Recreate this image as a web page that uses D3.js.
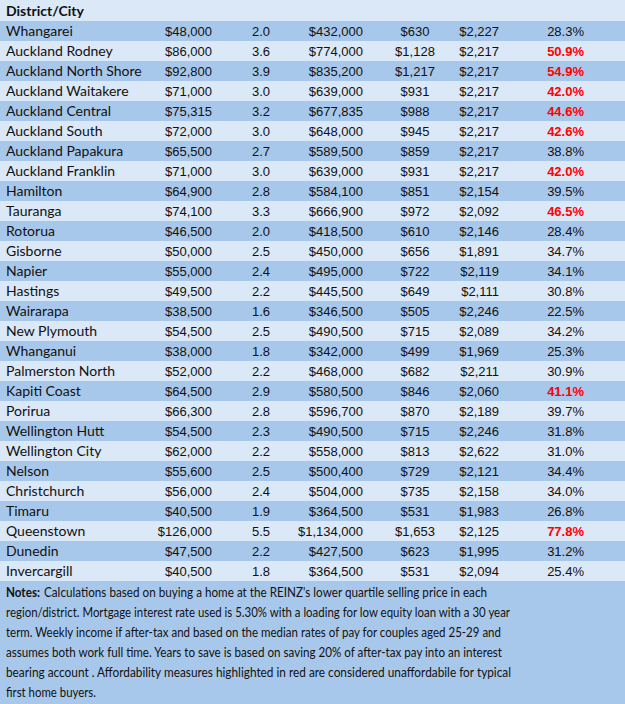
<!DOCTYPE html>
<html lang="en">
<head>
<meta charset="UTF-8">
<title>First home affordability by district</title>
<script src="https://d3js.org/d3.v7.min.js"></script>
<style>
  body { margin: 0; padding: 0; background: #fff; }
  svg { display: block; }
  .name { font-family: Lato, 'Noto Sans', sans-serif; font-size: 14px; fill: #111; }
  .num { font-family: 'Liberation Sans', Arial, sans-serif; font-size: 13px; fill: #111; }
  .hot { fill: #ff0000; font-weight: bold; }
  .notes { font-family: Lato, 'Noto Sans', sans-serif; font-size: 14px; fill: #111; }
</style>
</head>
<body>
<svg width="625" height="704"></svg>
<script>
const districts = ["Whangarei", "Auckland Rodney", "Auckland North Shore", "Auckland Waitakere",
  "Auckland Central", "Auckland South", "Auckland Papakura", "Auckland Franklin", "Hamilton",
  "Tauranga", "Rotorua", "Gisborne", "Napier", "Hastings", "Wairarapa", "New Plymouth",
  "Whanganui", "Palmerston North", "Kapiti Coast", "Porirua", "Wellington Hutt",
  "Wellington City", "Nelson", "Christchurch", "Timaru", "Queenstown", "Dunedin", "Invercargill"];
const deposit = [48000, 86000, 92800, 71000, 75315, 72000, 65500, 71000, 64900, 74100, 46500,
  50000, 55000, 49500, 38500, 54500, 38000, 52000, 64500, 66300, 54500, 62000, 55600, 56000,
  40500, 126000, 47500, 40500];
const yearsToSave = [2.0, 3.6, 3.9, 3.0, 3.2, 3.0, 2.7, 3.0, 2.8, 3.3, 2.0, 2.5, 2.4, 2.2, 1.6,
  2.5, 1.8, 2.2, 2.9, 2.8, 2.3, 2.2, 2.5, 2.4, 1.9, 5.5, 2.2, 1.8];
const price = [432000, 774000, 835200, 639000, 677835, 648000, 589500, 639000, 584100, 666900,
  418500, 450000, 495000, 445500, 346500, 490500, 342000, 468000, 580500, 596700, 490500,
  558000, 500400, 504000, 364500, 1134000, 427500, 364500];
const weeklyMortgage = [630, 1128, 1217, 931, 988, 945, 859, 931, 851, 972, 610, 656, 722, 649,
  505, 715, 499, 682, 846, 870, 715, 813, 729, 735, 531, 1653, 623, 531];
const weeklyIncome = [2227, 2217, 2217, 2217, 2217, 2217, 2217, 2217, 2154, 2092, 2146, 1891,
  2119, 2111, 2246, 2089, 1969, 2211, 2060, 2189, 2246, 2622, 2121, 2158, 1983, 2125, 1995, 2094];
const affordPct = [28.3, 50.9, 54.9, 42.0, 44.6, 42.6, 38.8, 42.0, 39.5, 46.5, 28.4, 34.7, 34.1,
  30.8, 22.5, 34.2, 25.3, 30.9, 41.1, 39.7, 31.8, 31.0, 34.4, 34.0, 26.8, 77.8, 31.2, 25.4];
const unaffordableAbove = 40;
const headerLabel = "District/City";
const notesLabel = "Notes:";
const notesLines = [
  "Calculations based on buying a home at the REINZ's lower quartile selling price in each",
  "region/district. Mortgage interest rate used is 5.30% with a loading for low equity loan with a 30 year",
  "term. Weekly income if after-tax and based on the median rates of pay for couples aged 25-29 and",
  "assumes both work full time. Years to save is based on saving 20% of after-tax pay into an interest",
  "bearing account . Affordability measures highlighted in red are considered unaffordabile for typical",
  "first home buyers."
];

const W = 625, H = 704;
const headerH = 21, rowH = 20;
const svg = d3.select("svg");

const rows = districts.map((d, i) => ({
  name: d, deposit: deposit[i], years: yearsToSave[i], price: price[i],
  mortgage: weeklyMortgage[i], income: weeklyIncome[i], pct: affordPct[i]
}));

const y = d3.scaleBand().domain(districts).range([headerH, headerH + rowH * districts.length]);
const tableBottom = y.range()[1];

const money = d3.format("$,.0f");
const cols = [
  { key: "name", x: 6, anchor: "start", cls: "name", fmt: d => d },
  { key: "deposit", x: 212, anchor: "end", cls: "num", fmt: money },
  { key: "years", x: 261, anchor: "middle", cls: "num", fmt: d3.format(".1f") },
  { key: "price", x: 363, anchor: "end", cls: "num", fmt: money },
  { key: "mortgage", x: 415, anchor: "middle", cls: "num", fmt: money },
  { key: "income", x: 499, anchor: "end", cls: "num", fmt: money },
  { key: "pct", x: 584, anchor: "end", cls: "num", fmt: d => d.toFixed(1) + "%" }
];

// header band
svg.append("rect").attr("x", 0).attr("y", 0).attr("width", W).attr("height", headerH)
  .attr("fill", "#dae8f7");
svg.append("text").attr("x", 6).attr("y", 16).attr("class", "name")
  .style("font-weight", "bold").text(headerLabel);

// striped rows
const g = svg.selectAll("g.row").data(rows).join("g")
  .attr("class", "row")
  .attr("transform", d => `translate(0,${y(d.name)})`);

g.append("rect").attr("width", W).attr("height", y.bandwidth())
  .attr("fill", (d, i) => i % 2 === 0 ? "#a8c8eb" : "#dae8f7");

cols.forEach(c => {
  g.append("text")
    .attr("x", c.x)
    .attr("y", y.bandwidth() / 2 + 5)
    .attr("text-anchor", c.anchor)
    .attr("class", d => c.cls + (c.key === "pct" && d.pct > unaffordableAbove ? " hot" : ""))
    .text(d => c.fmt(d[c.key]));
});

// notes block
svg.append("rect").attr("x", 0).attr("y", tableBottom).attr("width", W)
  .attr("height", H - tableBottom).attr("fill", "#a8c8eb");

svg.append("text").attr("class", "notes").attr("x", 6).attr("y", tableBottom + 16)
  .style("font-weight", "bold")
  .attr("textLength", 34).attr("lengthAdjust", "spacingAndGlyphs")
  .text(notesLabel);

// first line starts after the bold label
const noteStarts = [44, 6, 6, 6, 6, 6];
const noteEnds = [487, 510, 501, 502, 511, 96];
svg.selectAll("text.noteline").data(notesLines).join("text")
  .attr("class", "notes noteline")
  .attr("x", (d, i) => noteStarts[i])
  .attr("y", (d, i) => tableBottom + 16 + i * 20)
  .attr("textLength", (d, i) => noteEnds[i] - noteStarts[i])
  .attr("lengthAdjust", "spacingAndGlyphs")
  .text(d => d);
</script>
</body>
</html>
